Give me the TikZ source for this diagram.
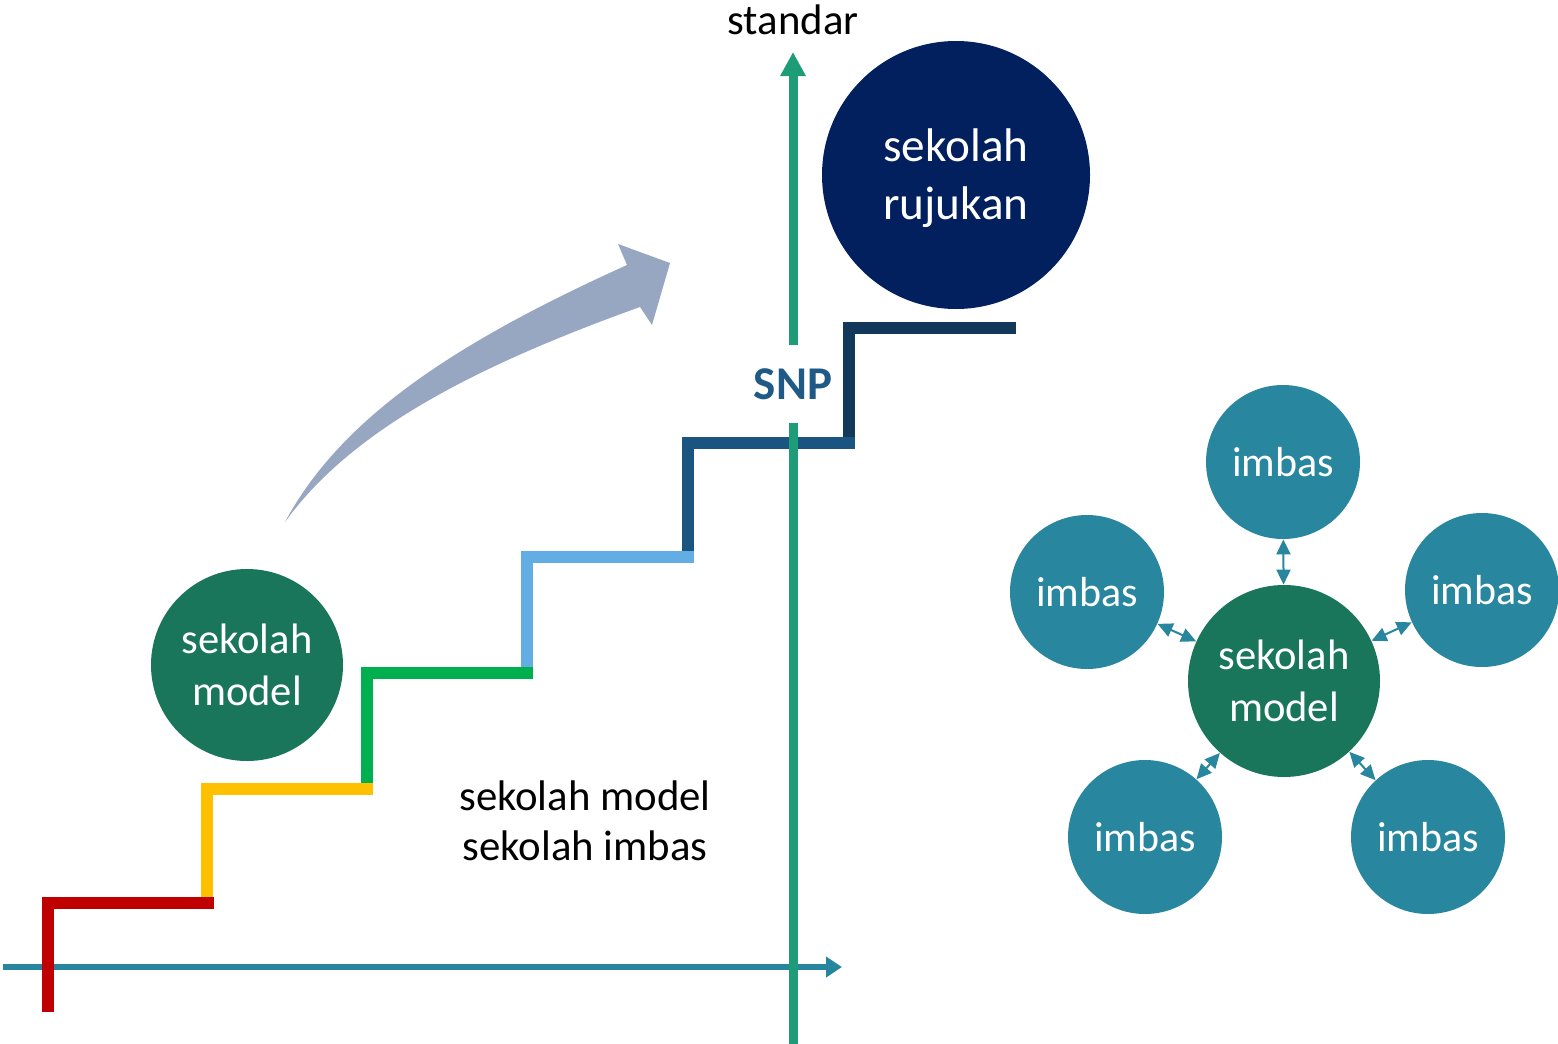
\documentclass[tikz,border=0pt]{standalone}
\usepackage{fontspec}
\setmainfont{Carlito}
\usetikzlibrary{arrows.meta}

\definecolor{stairred}{HTML}{C00000}
\definecolor{stairyellow}{HTML}{FFC000}
\definecolor{stairgreen}{HTML}{00B050}
\definecolor{stairlight}{HTML}{62AEE4}
\definecolor{stairblue}{HTML}{1A5480}
\definecolor{stairnavy}{HTML}{12395A}
\definecolor{axisteal}{HTML}{28859E}
\definecolor{axisgreen}{HTML}{1E9C78}
\definecolor{rujukan}{HTML}{03205E}
\definecolor{modelgreen}{HTML}{19765A}
\definecolor{imbasteal}{HTML}{28869E}
\definecolor{risearrow}{HTML}{97A7C2}
\definecolor{snpblue}{HTML}{1F5A86}

\tikzset{
  stair/.style={line width=6pt, miter limit=10},
  haxis/.style={axisteal, line width=3pt, -{Triangle[length=8pt,width=10pt]}},
  vaxis/.style={axisgreen, line width=4.5pt},
  bigcirc/.style={circle, fill=rujukan, text=white, minimum size=134pt, inner sep=0pt,
    align=center, font=\fontsize{23.6}{29}\selectfont},
  modelcirc/.style={circle, fill=modelgreen, text=white, minimum size=96pt, inner sep=0pt,
    align=center, font=\fontsize{21.3}{25.8}\selectfont},
  imbascirc/.style={circle, fill=imbasteal, text=white, minimum size=77pt, inner sep=0pt,
    font=\fontsize{21}{24}\selectfont},
  link/.style={imbasteal, line width=1pt,
    {Triangle[length=7.5pt,width=7pt]}-{Triangle[length=7.5pt,width=7pt]}},
  label/.style={align=center, font=\fontsize{21.4}{25.2}\selectfont},
}

\begin{document}
\begin{tikzpicture}[x=0.5pt, y=-0.5pt]
  \useasboundingbox (0,0) rectangle (1558,1044);

  % horizontal axis
  \coordinate (hx0) at (3,967);
  \coordinate (hx1) at (842,967);
  \draw[haxis] (hx0) -- (hx1);

  % the staircase, one coloured step at a time
  \draw[stair, stairred]    (48,1012) -- (48,903) -- (214,903);
  \draw[stair, stairyellow] (207,897) -- (207,789) -- (373,789);
  \draw[stair, stairgreen]  (367,783) -- (367,673) -- (533,673);
  \draw[stair, stairlight]  (527,667) -- (527,557) -- (694,557);
  \draw[stair, stairblue]   (688,551) -- (688,443) -- (855,443);
  \draw[stair, stairnavy]   (849,437) -- (849,328) -- (1016,328);

  % vertical standard axis, broken by the SNP label
  \node[text=snpblue, font=\bfseries\fontsize{23.5}{28}\selectfont,
        minimum height=39pt, inner sep=0pt] (snp) at (793,384) {SNP};
  \coordinate (vx0) at (793,1044);
  \coordinate (vx1) at (793,52);
  \draw[vaxis] (vx0) -- (snp.south);
  \draw[vaxis, -{Triangle[length=12pt,width=12pt]}] (snp.north) -- (vx1);
  \node[label] (standar) at (793,20) {standar};

  % rising arrow
  \fill[risearrow] (285,522) .. controls (340,420) and (450,345) .. (627,265)
    -- (618,244) -- (670,263) -- (652,325) -- (640,307)
    .. controls (470,368) and (350,432) .. (285,522) -- cycle;

  % schools on the left
  \node[bigcirc] (ruj) at (956,175) {};
  \node[align=center, text=white, font=\fontsize{23.6}{29}\selectfont]
    (rujtext) at (956,178) {sekolah\\rujukan};
  \node[modelcirc] (model) at (247,665) {sekolah\\model};
  \node[label] (legend) at (585,821) {sekolah model\\sekolah imbas};

  % model school with its imbas schools
  \node[modelcirc] (hub) at (1284,681) {sekolah\\model};
  \node[imbascirc] (i1) at (1283,462) {imbas};
  \node[imbascirc] (i2) at (1087,592) {imbas};
  \node[imbascirc] (i3) at (1482,590) {imbas};
  \node[imbascirc] (i4) at (1145,837) {imbas};
  \node[imbascirc] (i5) at (1428,837) {imbas};
  \foreach \n in {i1,i2,i3,i4,i5}
    \draw[link] (hub) -- (\n);
\end{tikzpicture}
\end{document}
